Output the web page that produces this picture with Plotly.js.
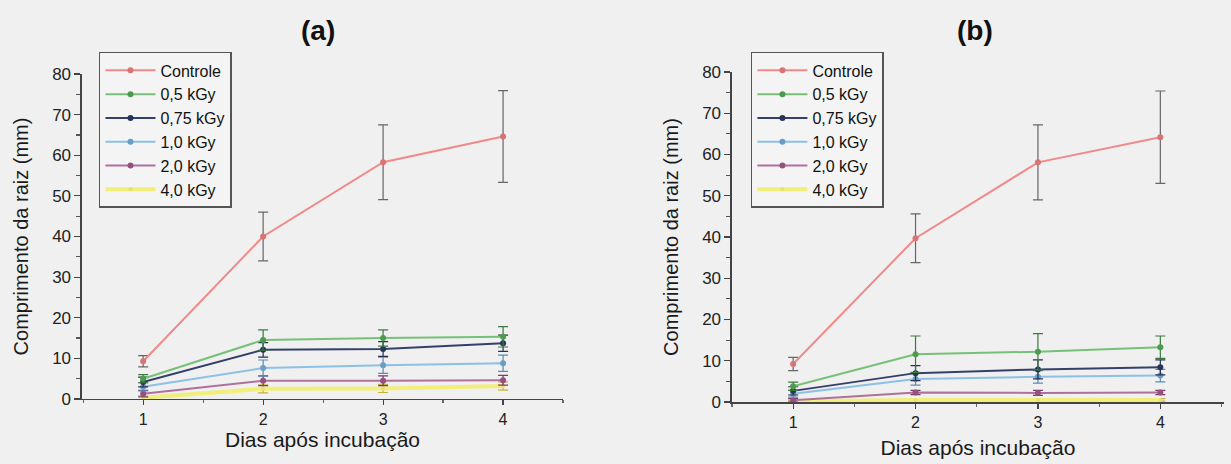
<!DOCTYPE html>
<html>
<head>
<meta charset="utf-8">
<script src="https://cdn.plot.ly/plotly-3.0.1.min.js"></script>
<style>html,body{margin:0;padding:0;background:#f0f0f0;}#chart{width:1231px;height:464px;}</style>
</head>
<body>
<div id="chart"></div>
<script>
// Days after incubation
const days = [1, 2, 3, 4];
const seriesNames = ["Controle", "0,5 kGy", "0,75 kGy", "1,0 kGy", "2,0 kGy", "4,0 kGy"];
const lineColors = ["#f08a8a", "#78c078", "#34406a", "#8cc0e4", "#b0709c", "#f2ee7a"];
const markerColors = ["#d87474", "#4e9a4e", "#2a3458", "#6a9ec4", "#94507e", "#e8e070"];
const errColors = ["#666666", "#3c7a3c", "#2a3050", "#5a8ab0", "#7a3a6a", "#c8b040"];

// Panel (a) values (mm)
const a_controle = [9.3, 40.0, 58.3, 64.6];
const a_05 = [5.0, 14.5, 15.0, 15.3];
const a_075 = [4.2, 12.1, 12.3, 13.7];
const a_10 = [3.0, 7.6, 8.3, 8.8];
const a_20 = [1.3, 4.5, 4.5, 4.6];
const a_40 = [0.3, 2.5, 2.6, 3.2];
// Panel (a) errors
const a_controle_err = [1.4, 6.0, 9.2, 11.3];
const a_05_err = [1.0, 2.5, 2.0, 2.5];
const a_075_err = [1.2, 1.8, 1.8, 2.0];
const a_10_err = [1.0, 2.0, 2.0, 2.0];
const a_20_err = [0.8, 1.2, 1.2, 1.2];
const a_40_err = [0.5, 1.0, 1.0, 1.0];

// Panel (b) values (mm)
const b_controle = [9.2, 39.7, 58.1, 64.2];
const b_05 = [3.8, 11.6, 12.2, 13.3];
const b_075 = [2.7, 7.0, 7.9, 8.4];
const b_10 = [2.0, 5.6, 6.1, 6.4];
const b_20 = [0.4, 2.3, 2.2, 2.3];
const b_40 = [0.2, 0.5, 0.5, 0.5];
// Panel (b) errors
const b_controle_err = [1.6, 5.9, 9.1, 11.2];
const b_05_err = [1.0, 4.4, 4.4, 2.7];
const b_075_err = [1.0, 1.8, 2.3, 1.8];
const b_10_err = [0.8, 1.5, 1.5, 1.5];
const b_20_err = [0.4, 0.5, 0.6, 0.5];
const b_40_err = [0.2, 0.3, 0.3, 0.3];

const aVals = [a_controle, a_05, a_075, a_10, a_20, a_40];
const aErrs = [a_controle_err, a_05_err, a_075_err, a_10_err, a_20_err, a_40_err];
const bVals = [b_controle, b_05, b_075, b_10, b_20, b_40];
const bErrs = [b_controle_err, b_05_err, b_075_err, b_10_err, b_20_err, b_40_err];

const FONT = "Liberation Sans, Arial, sans-serif";
const traces = [];
function addPanel(vals, errs, xa, ya, leg, prefix) {
  for (let i = vals.length - 1; i >= 0; i--) {
    traces.push({
      type: "scatter", mode: "lines+markers",
      x: days, y: vals[i], name: seriesNames[i],
      xaxis: xa, yaxis: ya, legend: leg, legendgroup: prefix + i, legendrank: i + 1,
      line: {color: lineColors[i], width: i === 5 ? 4 : 2},
      marker: {color: markerColors[i], size: i === 5 ? 4 : 6, symbol: "circle"},
      error_y: {type: "data", array: errs[i], visible: true, color: errColors[i], thickness: 1.2, width: 5},
      cliponaxis: true
    });
  }
}
addPanel(aVals, aErrs, "x", "y", "legend", "a");
addPanel(bVals, bErrs, "x2", "y2", "legend2", "b");

function xax(domain, range, standoff) {
  return {
    domain: domain, range: range, tickvals: days, ticktext: days.map(String),
    ticks: "outside", ticklen: 5, tickwidth: 1.2, tickcolor: "#444",
    showline: true, linecolor: "#444", linewidth: 1.5, showgrid: false, zeroline: false,
    minor: {dtick: 0.5, tick0: 0, ticks: "outside", ticklen: 3, tickcolor: "#666", showgrid: false},
    tickfont: {family: FONT, size: 16, color: "#222"},
    title: {text: "Dias após incubação", font: {family: FONT, size: 21, color: "#1a1a1a"}, standoff: standoff},
    automargin: false, fixedrange: true
  };
}
function yax(domain, anchor) {
  return {
    domain: domain, range: [0, 80], dtick: 10, tick0: 0, anchor: anchor,
    ticks: "outside", ticklen: 6, tickwidth: 1.2, tickcolor: "#444",
    showline: true, linecolor: "#444", linewidth: 1.5, showgrid: false, zeroline: false,
    minor: {dtick: 5, ticks: "outside", ticklen: 4, tickcolor: "#555", showgrid: false},
    tickfont: {family: FONT, size: 17, color: "#222"},
    title: {text: "Comprimento da raiz (mm)", font: {family: FONT, size: 20, color: "#1a1a1a"}, standoff: 18},
    automargin: false, fixedrange: true
  };
}

const legendBase = {
  xanchor: "left", yanchor: "top", bgcolor: "#f4f4f4", bordercolor: "#555", borderwidth: 1.5,
  font: {family: FONT, size: 16, color: "#111"}, itemwidth: 50, tracegroupgap: 3, traceorder: "normal"
};

const layout = {
  width: 1231, height: 464,
  margin: {l: 0, r: 0, t: 0, b: 0},
  paper_bgcolor: "#f0f0f0", plot_bgcolor: "#f0f0f0",
  showlegend: true,
  xaxis: Object.assign(xax([0.0666, 0.4574], [0.49, 4.5], 4), {anchor: "y"}),
  yaxis: yax([0.1401, 0.8405], "x"),
  xaxis2: Object.assign(xax([0.5946, 0.9943], [0.5, 4.52], 10), {anchor: "y2"}),
  yaxis2: yax([0.1336, 0.8448], "x2"),
  legend: Object.assign({}, legendBase, {x: 0.0804, y: 0.888}),
  legend2: Object.assign({}, legendBase, {x: 0.610, y: 0.888}),
  annotations: [
    {text: "<b>(a)</b>", x: 0.2583, y: 0.935, xref: "paper", yref: "paper", showarrow: false,
     font: {family: FONT, size: 28, color: "#111"}, xanchor: "center", yanchor: "middle"},
    {text: "<b>(b)</b>", x: 0.792, y: 0.935, xref: "paper", yref: "paper", showarrow: false,
     font: {family: FONT, size: 28, color: "#111"}, xanchor: "center", yanchor: "middle"}
  ]
};

Plotly.newPlot("chart", traces, layout, {staticPlot: true, displayModeBar: false});
</script>
</body>
</html>
